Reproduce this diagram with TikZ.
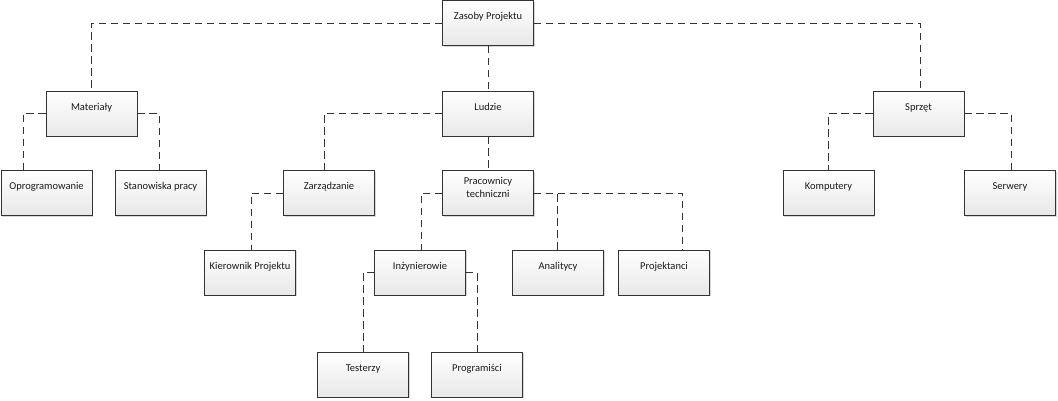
\documentclass[tikz,border=0pt]{standalone}
\usepackage{fontspec}
\setmainfont{Carlito}
\usetikzlibrary{shadows}
\definecolor{edge}{HTML}{333333}
\definecolor{txt}{HTML}{1A1A1A}
\tikzset{
  box/.style={draw=edge, line width=0.9pt, minimum width=91pt, minimum height=45pt,
    inner sep=0pt, top color=white, bottom color=black!9,
    drop shadow={shadow xshift=1.2pt, shadow yshift=-1.2pt, fill=black!30, opacity=0.5}},
  lbl/.style={anchor=base, inner sep=0pt, text=txt, font=\fontsize{10.5}{13}\selectfont},
  conn/.style={draw=edge, line width=0.9pt, dash pattern=on 7.5pt off 4.5pt},
}
\begin{document}
\begin{tikzpicture}[x=1pt,y=-1pt]
\useasboundingbox (0,0) rectangle (1058,400);
\node[box] (zas) at (488,23) {};
\node[box] (mat) at (91.5,113.5) {};
\node[box] (lud) at (488,113.5) {};
\node[box] (spr) at (918.5,113.5) {};
\node[box] (opr) at (46.5,193) {};
\node[box] (sta) at (160.5,193) {};
\node[box] (zar) at (329,193) {};
\node[box] (pra) at (488,193) {};
\node[box] (kom) at (828.5,193) {};
\node[box] (ser) at (1010,193) {};
\node[box] (kie) at (250,272.5) {};
\node[box] (inz) at (420,272.5) {};
\node[box] (ana) at (558,272.5) {};
\node[box] (prj) at (664,272.5) {};
\node[box] (tes) at (363,374.5) {};
\node[box] (prg) at (477,374.5) {};
% connectors
\draw[conn] (zas.west) -| (mat.north);
\draw[conn] (zas.south) -- (lud.north);
\draw[conn] (zas.east) -| ([xshift=1.5pt]spr.north);
\draw[conn] (mat.west) -| ([xshift=-23.5pt]opr.north);
\draw[conn] (mat.east) -| ([xshift=-1.5pt]sta.north);
\draw[conn] (lud.west) -| ([xshift=-5pt]zar.north);
\draw[conn] (lud.south) -- (pra.north);
\draw[conn] (zar.west) -| ([xshift=1pt]kie.north);
\draw[conn] (pra.west) -| ([xshift=1pt]inz.north);
\draw[conn] (pra.east) -| ([xshift=18pt]prj.north);
\draw[conn] ([xshift=-1pt]ana.north) -- ([xshift=-1pt]ana.north |- pra.east);
\draw[conn] (inz.west) -| (tes.north);
\draw[conn] (inz.east) -| (prg.north);
\draw[conn] (spr.west) -| (kom.north);
\draw[conn] (spr.east) -| ([xshift=1pt]ser.north);
% labels
\node[lbl] (zas-t) at ([yshift=-19.5pt]zas.north) {Zasoby Projektu};
\node[lbl] (mat-t) at ([yshift=-19.5pt]mat.north) {Materiały};
\node[lbl] (lud-t) at ([yshift=-19.5pt]lud.north) {Ludzie};
\node[lbl] (spr-t) at ([yshift=-19.5pt]spr.north) {Sprzęt};
\node[lbl] (opr-t) at ([yshift=-19.5pt]opr.north) {Oprogramowanie};
\node[lbl] (sta-t) at ([yshift=-19.5pt]sta.north) {Stanowiska pracy};
\node[lbl] (zar-t) at ([yshift=-19.5pt]zar.north) {Zarządzanie};
\node[lbl, align=center, anchor=north] (pra-t) at ([yshift=-7pt]pra.north) {Pracownicy\\techniczni};
\node[lbl] (kom-t) at ([yshift=-19.5pt]kom.north) {Komputery};
\node[lbl] (ser-t) at ([yshift=-19.5pt]ser.north) {Serwery};
\node[lbl] (kie-t) at ([yshift=-19.5pt]kie.north) {Kierownik Projektu};
\node[lbl] (inz-t) at ([yshift=-19.5pt]inz.north) {Inżynierowie};
\node[lbl] (ana-t) at ([yshift=-19.5pt]ana.north) {Analitycy};
\node[lbl] (prj-t) at ([yshift=-19.5pt]prj.north) {Projektanci};
\node[lbl] (tes-t) at ([yshift=-19.5pt]tes.north) {Testerzy};
\node[lbl] (prg-t) at ([yshift=-19.5pt]prg.north) {Programiści};
\end{tikzpicture}
\end{document}
